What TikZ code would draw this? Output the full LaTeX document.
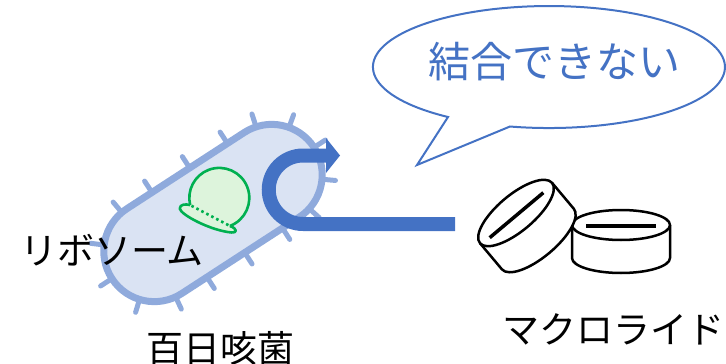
\documentclass[tikz,border=0pt]{standalone}
\usepackage{fontspec}
\usetikzlibrary{calc}
\newfontfamily\jpfont{Noto Sans CJK JP}
\definecolor{cellfill}{HTML}{DAE3F3}
\definecolor{cellline}{HTML}{8FAADC}
\definecolor{accent}{HTML}{4472C4}
\definecolor{ribofill}{HTML}{DDF4DC}
\definecolor{riboline}{HTML}{00B050}
\begin{document}
\begin{tikzpicture}[x=1pt,y=-1pt,
  jplabel/.style={font=\jpfont\fontsize{37}{40}\selectfont, inner sep=0pt, text=black},
  bristle/.style={draw=cellline, line width=5pt, line cap=round},
  pillline/.style={draw=black, line width=2.5pt, fill=white, line join=round},
  ribo/.style={draw=riboline, line width=2.6pt, fill=ribofill, line join=round}]
\useasboundingbox (0,0) rectangle (726,364);

% ---- bacterium (rod cell with short pili) ----
\begin{scope}[shift={(213,213)}, rotate=33]
  \foreach \a in {-75,-37,0,38,75}
    \draw[bristle] ({70+50*cos(\a)},{50*sin(\a)}) -- ({70+64*cos(\a)},{64*sin(\a)});
  \foreach \a in {98,140,180,220,263}
    \draw[bristle] ({-70+50*cos(\a)},{50*sin(\a)}) -- ({-70+64*cos(\a)},{64*sin(\a)});
  \foreach \x in {-40,5,50} {
    \draw[bristle] (\x,-50) -- (\x,-64);
    \draw[bristle] (\x,50) -- (\x,64);
  }
  \draw[fill=cellfill, draw=cellline, line width=7pt, rounded corners=50.5pt]
    (-120.5,-50.5) rectangle (120.5,50.5);
\end{scope}

% ---- ribosome ----
\begin{scope}[shift={(210,215.5)}, rotate=-27.7]
  % brim
  \draw[ribo] (-22.5,0) .. controls (-27,1) and (-32,4) .. (-30,8)
     .. controls (-26,13) and (8,13) .. (27,5)
     .. controls (32,3) and (31,-1) .. (22.5,0);
  % dome
  \draw[ribo] (22.5,0) arc[start angle=-41.6, end angle=221.6, radius=30pt];
  \fill[ribofill] (-20,-1) rectangle (20,1.5);
  \draw[riboline, line width=2.6pt, dash pattern=on 2.6pt off 3pt] (-21,0) -- (21,0);
\end{scope}

% ---- U-turn arrow ----
\coordinate (barend) at (455,224);
\coordinate (turnlow) at (303,224);
\coordinate (turnhigh) at (326,155.5);
\coordinate (tip) at (340,155.5);
\draw[accent, line width=14pt] (barend) -- (turnlow)
  arc[start angle=270, end angle=90, radius=34.25pt] -- (turnhigh);
\fill[accent] ($(turnhigh)+(0,-17.5)$) -- (tip) -- ($(turnhigh)+(0,17.5)$) -- cycle;

% ---- speech bubble ----
\draw[accent, line width=2pt, fill=white, line join=miter]
  (448,117) arc[start angle=235, end angle=-102.8, x radius=176pt, y radius=61pt]
  -- (417,165) -- cycle;
\node[font=\jpfont\fontsize{42}{46}\selectfont, text=accent, inner sep=0pt] (say) at (554,62) {結合できない};

% ---- macrolide tablets ----
\begin{scope}[shift={(621,225)}]
  \draw[pillline] (-49,0) -- (-49,33) arc[start angle=180, end angle=360, x radius=49pt, y radius=15pt] -- (49,0);
  \draw[pillline] (0,0) ellipse[x radius=49pt, y radius=15pt];
  \draw[line width=3.5pt] (-35,1) -- (35,1);
\end{scope}
\begin{scope}[shift={(516,213)}, rotate=40]
  \draw[pillline] (-47,0) -- (-47,34) arc[start angle=180, end angle=360, x radius=47pt, y radius=18pt] -- (47,0);
  \draw[pillline] (0,0) ellipse[x radius=47pt, y radius=18pt];
  \draw[line width=3.5pt] (-36,2) -- (34,2);
\end{scope}

% ---- labels ----
\node[jplabel] (ribosome) at (112,250) {リボソーム};
\node[jplabel] (pertussis) at (220,348) {百日咳菌};
\node[jplabel] (macrolide) at (613,329) {マクロライド};
\end{tikzpicture}
\end{document}
